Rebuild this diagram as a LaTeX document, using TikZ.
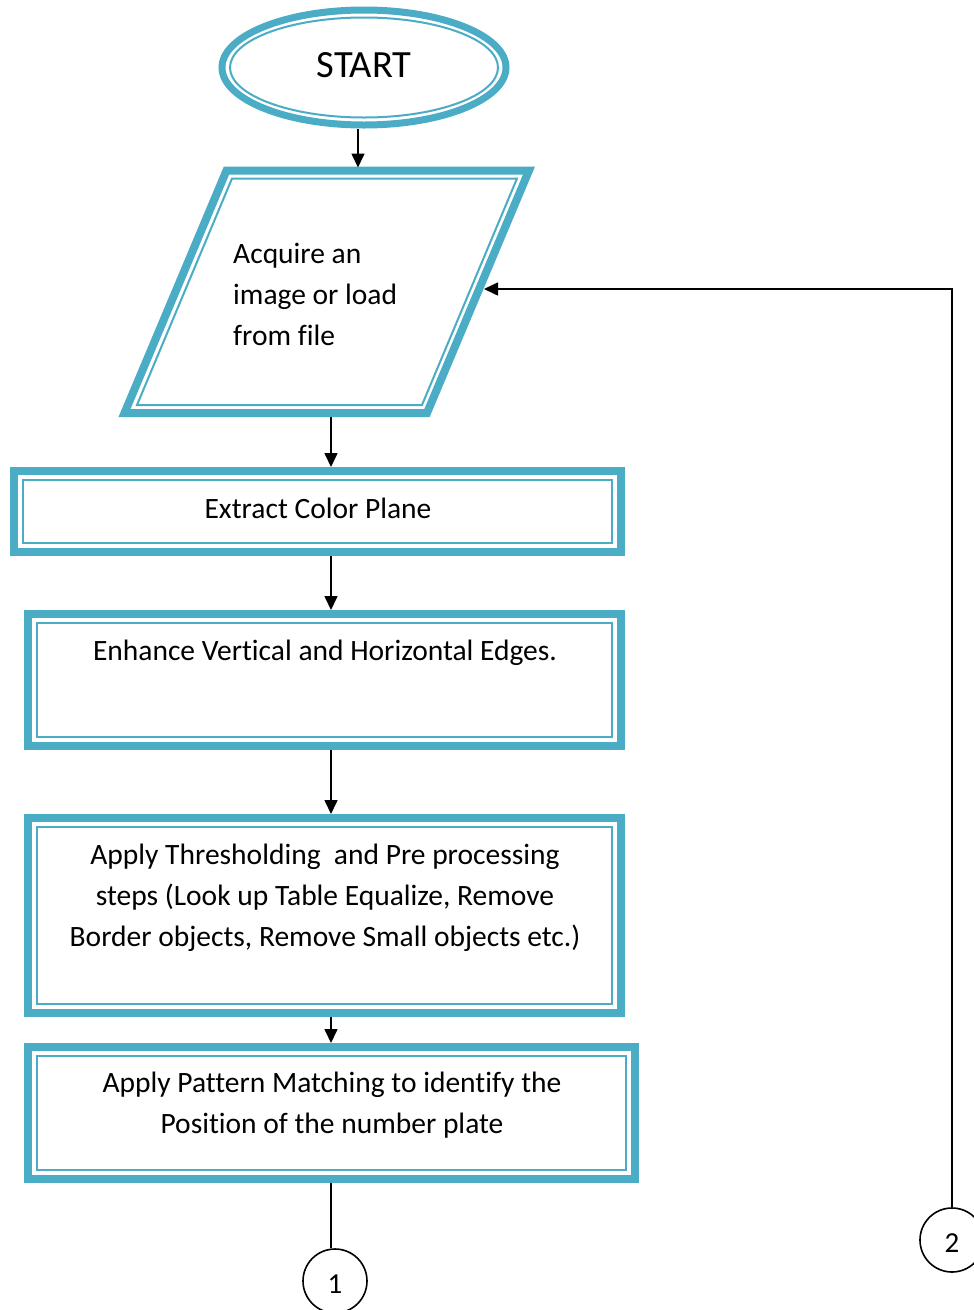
\documentclass[tikz,border=0pt]{standalone}
\usepackage{fontspec}
\setmainfont{Carlito}[Ligatures=NoCommon]
\usetikzlibrary{arrows.meta,shapes.geometric}
\definecolor{frame}{HTML}{4BACC6}
\begin{document}
\begin{tikzpicture}[x=1pt,y=-1pt,
  heavy/.style={draw=frame,line width=8pt},
  fine/.style={draw=frame,line width=2pt},
  stepbox/.style={heavy,rectangle,inner sep=0pt},
  body/.style={font=\fontsize{29.5}{41}\selectfont,inner sep=0pt,anchor=base},
  link/.style={draw=black,line width=1.6pt},
  arrow/.style={link,-{Triangle[length=14pt,width=13pt]}},
  connector/.style={circle,draw=black,line width=1.6pt,minimum size=64pt,inner sep=0pt,
    font=\fontsize{29}{35}\selectfont,text height=25pt,text depth=0pt}
]
\useasboundingbox (0,0) rectangle (974,1310);
\fill[white] (0,0) rectangle (974,1310);
\clip (0,0) rectangle (974,1310);

% vertical guide lines for the connectors
\coordinate (spine) at (331,0);
\coordinate (spineA) at (358,0);

% terminal
\node[ellipse,draw=frame,line width=7pt,minimum width=284pt,minimum height=115pt,
  inner sep=0pt,font=\fontsize{38.5}{44}\selectfont,text height=19pt,text depth=0pt]
  (start) at (364,67.5) {START};
\draw[fine] (start.center) ellipse [x radius=134pt, y radius=50pt];

% input / output parallelogram
\coordinate (pTL) at (226.5,170.5);
\coordinate (pTR) at (529,170.5);
\coordinate (pBR) at (427,413);
\coordinate (pBL) at (124.5,413);
\draw[heavy,line join=miter] (pTL) -- (pTR) -- (pBR) -- (pBL) -- cycle;
\draw[fine,line join=miter] (232,178.5) -- (517,178.5) -- (422,405) -- (137,405) -- cycle;
\coordinate (ptop) at (358,167.5);
\coordinate (pbot) at (331,417);
\coordinate (pright) at (484,289);
\node[body,anchor=base west] (tp) at (233,263)
  {\begin{tabular}[t]{@{}l@{}}Acquire an\\image or load\\from file\end{tabular}};

% process boxes
\node[stepbox,minimum width=607pt,minimum height=81pt] (b1) at (317.5,511.5) {};
\node[stepbox,minimum width=593pt,minimum height=132pt] (b2) at (324.5,680) {};
\node[stepbox,minimum width=593pt,minimum height=195pt] (b3) at (324.5,915.5) {};
\node[stepbox,minimum width=607pt,minimum height=132pt] (b4) at (331.5,1113) {};
\foreach \n in {b1,b2,b3,b4}
  \draw[fine] ([xshift=13pt,yshift=-13pt]\n.north west) rectangle ([xshift=-13pt,yshift=13pt]\n.south east);

\node[body] (t1) at (318,518) {Extract Color Plane};
\node[body] (t2) at (325,660) {Enhance Vertical and Horizontal Edges.};
\node[body] (t3) at (325,864)
  {\begin{tabular}[t]{@{}c@{}}Apply Thresholding\ \ and Pre processing\\steps (Look up Table Equalize, Remove\\Border objects, Remove Small objects etc.)\end{tabular}};
\node[body] (t4) at (332,1092)
  {\begin{tabular}[t]{@{}c@{}}Apply Pattern Matching to identify the\\Position of the number plate\end{tabular}};

% off-page connectors
\node[connector] (c1) at (335,1281) {1};
\node[connector] (c2) at (952,1240) {2};

% flow lines
\draw[arrow] (start.south -| spineA) -- (ptop);
\draw[arrow] (pbot) -- (b1.north -| spine);
\draw[arrow] (b1.south -| spine) -- (b2.north -| spine);
\draw[arrow] (b2.south -| spine) -- (b3.north -| spine);
\draw[arrow] (b3.south -| spine) -- (b4.north -| spine);
\draw[link] (b4.south -| spine) -- (c1.north -| spine);
\draw[arrow] (c2.north) |- (pright);
\end{tikzpicture}
\end{document}
